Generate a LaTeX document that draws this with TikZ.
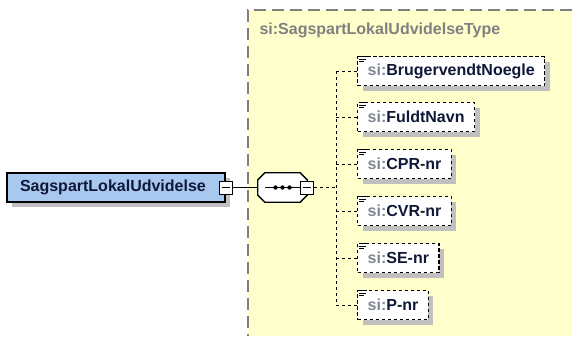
\documentclass[tikz,border=0pt]{standalone}
\usepackage{fontspec}
\setmainfont{Liberation Sans}
\usetikzlibrary{shadows}
\definecolor{typebg}{RGB}{255,255,204}
\definecolor{elemblue}{RGB}{168,200,240}
\definecolor{namecol}{RGB}{16,24,56}
\definecolor{prefix}{RGB}{128,134,146}
\definecolor{shadowgray}{RGB}{192,192,192}
\tikzset{
  boxfont/.style={font=\bfseries\fontsize{16}{19}\selectfont},
  boxshadow/.style={general shadow={fill=shadowgray, shadow xshift=5pt, shadow yshift=-5pt}},
  elembox/.style={draw, line width=1.3pt, fill=elemblue, minimum height=29pt, inner ysep=0pt, boxfont, text=namecol, boxshadow},
  childbox/.style={draw, dash pattern=on 3.5pt off 2.5pt, line width=1.3pt, fill=white, minimum height=29pt, inner xsep=10pt, inner ysep=0pt, anchor=west, boxfont, text=namecol, boxshadow},
  minusbox/.style={draw, line width=0.9pt, fill=white, minimum size=13pt, inner sep=0pt},
  link/.style={dash pattern=on 3pt off 3pt, line width=0.9pt},
}
\newcommand\octpath[1]{([xshift=7pt]#1.north west) -- ([xshift=-7pt]#1.north east) -- ([yshift=-7pt]#1.north east) -- ([yshift=7pt]#1.south east) -- ([xshift=-7pt]#1.south east) -- ([xshift=7pt]#1.south west) -- ([yshift=7pt]#1.south west) -- ([yshift=-7pt]#1.north west) -- cycle}
\begin{document}
\begin{tikzpicture}[x=1pt,y=1pt]
\useasboundingbox (0,0) rectangle (572,-338);
% complex type area
\fill[typebg] (248,-10) rectangle (572,-336);
\draw[gray, line width=1.2pt, dash pattern=on 12pt off 6pt] (572,-10) -- (248,-10) -- (248,-336);
\node[anchor=west, boxfont, text=gray] (typename) at (256,-30) {si:SagspartLokalUdvidelseType};

% the element
\node[elembox, minimum width=218pt, text width=192pt, inner xsep=13pt, align=left] (elem) at (116,-187.5) {SagspartLokalUdvidelse};
\node[minusbox] (elemm) at (elem.east) {};
\draw[line width=0.9pt] ([xshift=3pt]elemm.west) -- ([xshift=-3pt]elemm.east);

% sequence
\node[minimum width=49pt, minimum height=29pt, inner sep=0pt] (seq) at (282.5,-187.5) {};
\fill[shadowgray, shift={(5pt,-5pt)}] \octpath{seq};
\draw[line width=1.3pt, fill=white] \octpath{seq};
\draw[line width=1pt] ([xshift=7pt]seq.west) -- ([xshift=-7pt]seq.east);
\foreach \dx in {-7,0,7}
  \fill ([xshift=\dx pt]seq.center) circle (2.2pt);
\node[minusbox] (seqm) at (seq.east) {};
\draw[line width=0.9pt] ([xshift=3pt]seqm.west) -- ([xshift=-3pt]seqm.east);
\draw[line width=1pt] (elemm.east) -- (seq.west);

% children
\foreach \name/\lbl/\y in {noegle/BrugervendtNoegle/71, navn/FuldtNavn/117, cpr/CPR-nr/164, cvr/CVR-nr/211, se/SE-nr/258, pnr/P-nr/305} {
  \node[childbox] (\name) at (357,-\y) {\textcolor{prefix}{si:}\lbl};
  \foreach \k/\len in {1/8,3.5/7,6/5}
    \draw[line width=0.8pt] ([xshift=2pt,yshift=-\k pt]\name.north west) -- ++(\len pt,0);
  \coordinate (j\name) at (336,-\y);
  \draw[link] (j\name) -- (\name.west);
}
\draw[link] (jnoegle) -- (jpnr);
\draw[link] (seqm.east) -- (seqm.east -| jnoegle);
\end{tikzpicture}
\end{document}
